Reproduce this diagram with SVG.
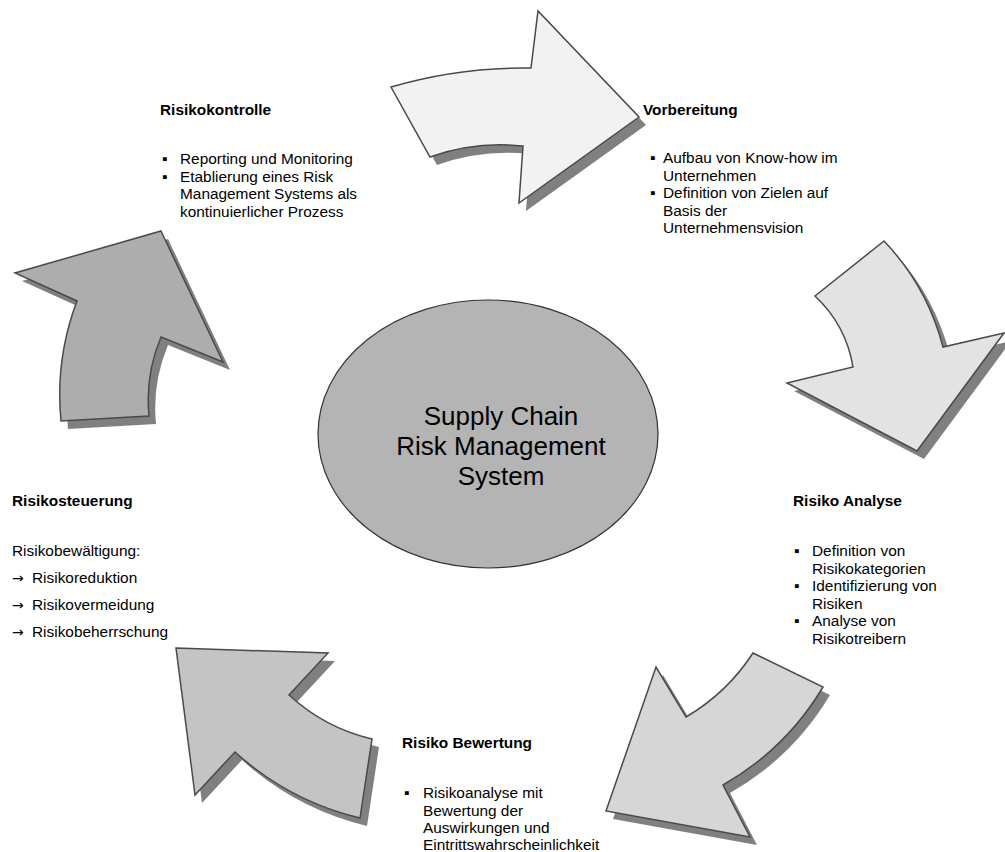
<svg xmlns="http://www.w3.org/2000/svg" width="1005" height="852" viewBox="0 0 1005 852">
<style>
text{font-family:"Liberation Sans",Arial,sans-serif;font-size:15.4px;fill:#000}
.t{font-weight:bold}
.big{font-size:26px}
.arw{font-family:"DejaVu Sans",sans-serif;font-size:14px}
.sh{fill:#808080;stroke:none}
.ar{stroke:#4a4a4a;stroke-width:1.5;stroke-linejoin:miter}
</style>
<rect width="1005" height="852" fill="#fff"/>
<g id="connectors">
  <g id="arrow-top">
    <path class="sh" transform="translate(7,8)" d="M391,87 Q459,67 531,68 L538,11 L639,117 L519,203 L523,146 Q475,141 430,157 Z"/>
    <path class="ar" fill="#f2f2f2" d="M391,87 Q459,67 531,68 L538,11 L639,117 L519,203 L523,146 Q475,141 430,157 Z"/>
  </g>
  <g id="arrow-right">
    <path class="sh" transform="translate(7,8)" d="M884,241 L815,296 Q846,325 853,367 L787,383 L917,451 L1004,333 L943,347 Q927,286 884,241 Z"/>
    <path class="ar" fill="#e3e3e3" d="M884,241 L815,296 Q846,325 853,367 L787,383 L917,451 L1004,333 L943,347 Q927,286 884,241 Z"/>
  </g>
  <g id="arrow-bottom-right">
    <path class="sh" transform="translate(7,8)" d="M753,653 L823,687 Q786,749 723,785 L750,837 L606,811 L656,667 L686,717 Q727,693 753,653 Z"/>
    <path class="ar" fill="#d6d6d6" d="M753,653 L823,687 Q786,749 723,785 L750,837 L606,811 L656,667 L686,717 Q727,693 753,653 Z"/>
  </g>
  <g id="arrow-bottom-left">
    <path class="sh" transform="translate(7,8)" d="M176,648 L328,653 L289,695 Q325,728 372,739 L360,818 Q289,801 235,752 L195,795 Z"/>
    <path class="ar" fill="#c4c4c4" d="M176,648 L328,653 L289,695 Q325,728 372,739 L360,818 Q289,801 235,752 L195,795 Z"/>
  </g>
  <g id="arrow-left">
    <path class="sh" transform="translate(7,8)" d="M161,231 L223,362 L161,337 Q145,375 149,416 L61,421 Q55,359 77,301 L15,273 Z"/>
    <path class="ar" fill="#adadad" d="M161,231 L223,362 L161,337 Q145,375 149,416 L61,421 Q55,359 77,301 L15,273 Z"/>
  </g>
</g>
<g id="center">
  <ellipse cx="488" cy="434" rx="170" ry="134" fill="#b4b4b4" stroke="#333" stroke-width="1.2"/>
  <text class="big" x="501" y="425" text-anchor="middle">Supply Chain</text>
  <text class="big" x="501" y="455" text-anchor="middle">Risk Management</text>
  <text class="big" x="501" y="485" text-anchor="middle">System</text>
</g>
<g id="risikokontrolle">
  <text class="t" x="160" y="115">Risikokontrolle</text>
  <text x="162" y="164">▪</text><text x="180" y="164">Reporting und Monitoring</text>
  <text x="162" y="181.5">▪</text><text x="180" y="181.5">Etablierung eines Risk</text>
  <text x="180" y="199">Management Systems als</text>
  <text x="180" y="216.5">kontinuierlicher Prozess</text>
</g>
<g id="vorbereitung">
  <text class="t" x="643" y="115">Vorbereitung</text>
  <text x="650" y="163">▪</text><text x="663" y="163">Aufbau von Know-how im</text>
  <text x="663" y="180.5">Unternehmen</text>
  <text x="650" y="198">▪</text><text x="663" y="198">Definition von Zielen auf</text>
  <text x="663" y="215.5">Basis der</text>
  <text x="663" y="233">Unternehmensvision</text>
</g>
<g id="risiko-analyse">
  <text class="t" x="793" y="506">Risiko Analyse</text>
  <text x="794" y="556">▪</text><text x="812" y="556">Definition von</text>
  <text x="812" y="573.5">Risikokategorien</text>
  <text x="794" y="591">▪</text><text x="812" y="591">Identifizierung von</text>
  <text x="812" y="608.5">Risiken</text>
  <text x="794" y="626">▪</text><text x="812" y="626">Analyse von</text>
  <text x="812" y="643.5">Risikotreibern</text>
</g>
<g id="risiko-bewertung">
  <text class="t" x="402" y="748">Risiko Bewertung</text>
  <text x="404" y="798">▪</text><text x="423" y="798">Risikoanalyse mit</text>
  <text x="423" y="815.5">Bewertung der</text>
  <text x="423" y="833">Auswirkungen und</text>
  <text x="423" y="850">Eintrittswahrscheinlichkeit</text>
</g>
<g id="risikosteuerung">
  <text class="t" x="12" y="506">Risikosteuerung</text>
  <text x="12" y="556">Risikobewältigung:</text>
  <text class="arw" x="12" y="583">→</text><text x="32" y="583">Risikoreduktion</text>
  <text class="arw" x="12" y="610">→</text><text x="32" y="610">Risikovermeidung</text>
  <text class="arw" x="12" y="637">→</text><text x="32" y="637">Risikobeherrschung</text>
</g>
</svg>
